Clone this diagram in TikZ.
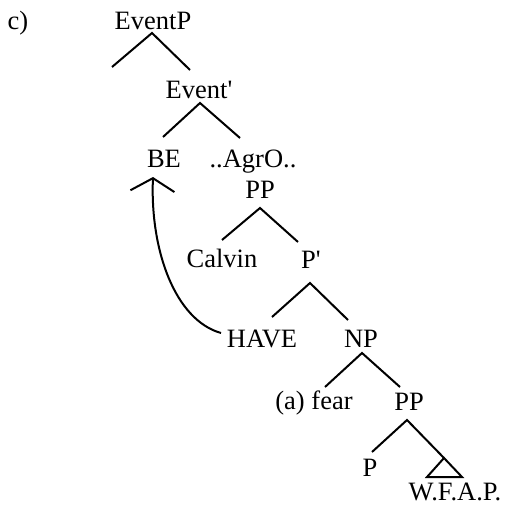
\documentclass[tikz,border=0pt]{standalone}
\usepackage{fontspec}
\setmainfont{Liberation Serif}
\usetikzlibrary{arrows.meta}
\begin{document}
\begin{tikzpicture}[x=1pt,y=-1pt,
  lbl/.style={anchor=base,inner sep=0pt,font=\fontsize{26.5}{30}\selectfont},
  br/.style={line width=2pt,line cap=butt},
  mv/.style={line width=2pt,-{Straight Barb[length=13pt,width=44pt,line width=2pt]}}]
\useasboundingbox (0,0) rectangle (508,506);
% labels
\node[lbl] (lab) at (18,29) {c)};
\node[lbl] (EventP) at (153,29) {EventP};
\node[lbl] (Eventb) at (199,98) {Event\textquotesingle};
\node[lbl] (BE) at (164,167) {BE};
\node[lbl] (AgrO) at (253,167) {..AgrO..};
\node[lbl] (PP) at (260,198) {PP};
\node[lbl] (Calvin) at (222,267) {Calvin};
\node[lbl] (Pb) at (311,268) {P\textquotesingle};
\node[lbl] (HAVE) at (262,347) {HAVE};
\node[lbl] (NP) at (361,347) {NP};
\node[lbl] (fear) at (314,409) {(a) fear};
\node[lbl] (PP2) at (409,410) {PP};
\node[lbl] (P) at (370,476) {P};
\node[lbl] (WFAP) at (455,500) {W.F.A.P.};
% branch points
\coordinate (EventP-a) at (152,33);
\coordinate (EventP-l) at (112,67);
\coordinate (EventP-r) at (190,70);
\coordinate (Eventb-a) at (200,103);
\coordinate (Eventb-l) at (163,137);
\coordinate (Eventb-r) at (240,138);
\coordinate (PP-a) at (260,208);
\coordinate (PP-l) at (222,240);
\coordinate (PP-r) at (298,242);
\coordinate (Pb-a) at (310,283);
\coordinate (Pb-l) at (272,317);
\coordinate (Pb-r) at (348,320);
\coordinate (NP-a) at (362,353);
\coordinate (NP-l) at (325,387);
\coordinate (NP-r) at (400,387);
\coordinate (PP2-a) at (407,420);
\coordinate (PP2-l) at (372,452);
\coordinate (tri-a) at (444,458);
\coordinate (tri-l) at (427,477);
\coordinate (tri-r) at (462,477);
\coordinate (HAVE-w) at (221,333);
\coordinate (BE-s) at (153,177);
% branches
\draw[br] (EventP-l) -- (EventP-a) -- (EventP-r);
\draw[br] (Eventb-l) -- (Eventb-a) -- (Eventb-r);
\draw[br] (PP-l) -- (PP-a) -- (PP-r);
\draw[br] (Pb-l) -- (Pb-a) -- (Pb-r);
\draw[br] (NP-l) -- (NP-a) -- (NP-r);
\draw[br] (PP2-l) -- (PP2-a) -- (tri-a);
\draw[br,line join=miter] (tri-a) -- (tri-l) -- (tri-r) -- cycle;
% movement arrow
\draw[mv] (HAVE-w) .. controls (175,320) and (150,250) .. (BE-s);
\end{tikzpicture}
\end{document}
